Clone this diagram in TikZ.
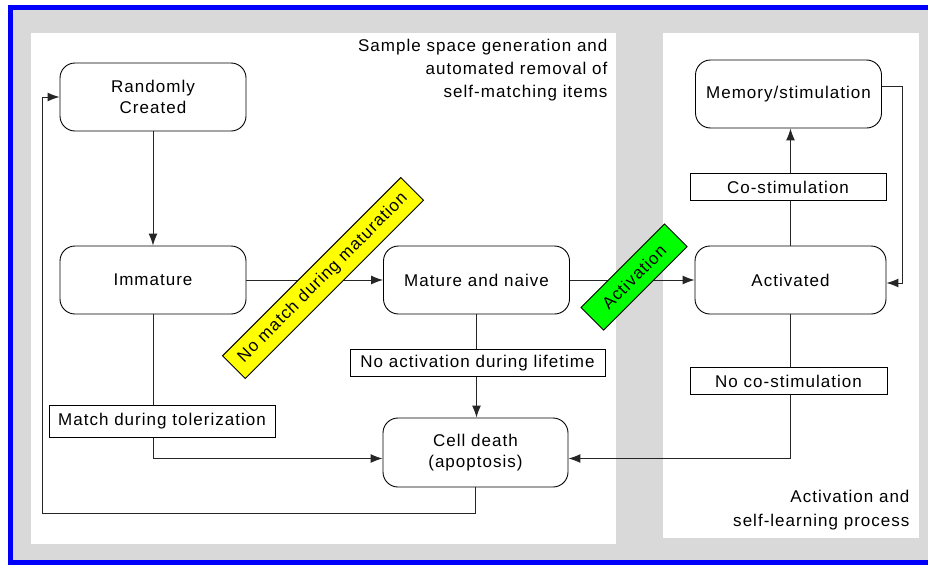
\documentclass[tikz,border=0pt]{standalone}
\usepackage{fontspec}
\setmainfont[LetterSpace=6]{Liberation Sans}
\usetikzlibrary{arrows.meta}
\definecolor{panelgray}{RGB}{217,217,217}
\definecolor{frameblue}{RGB}{0,0,250}
\definecolor{taggreen}{RGB}{0,255,0}
\definecolor{tagyellow}{RGB}{255,255,0}

\tikzset{
  cellstate/.style={draw, fill=white, rounded corners=15pt, minimum width=186pt, minimum height=68pt, align=center, line width=0.9pt},
  condbox/.style={draw, fill=white, minimum height=27pt, line width=0.9pt},
  tagbox/.style={draw, rotate=45, minimum height=32pt, line width=0.9pt},
  flow/.style={draw=black!85, line width=1pt, -{Latex[length=12pt,width=9pt]}},
}

\begin{document}
\begin{tikzpicture}[x=1pt,y=-1pt,font=\fontsize{17}{21}\selectfont]
\useasboundingbox (0,0) rectangle (928,565);
\fill[white] (0,0) rectangle (928,565);
% frame and the two panels
\fill[panelgray] (10.5,7) rectangle (928,562.5);
\draw[frameblue, line width=5pt] (928,7) -- (10.5,7) -- (10.5,562.5) -- (928,562.5);
\fill[white] (31,33) rectangle (616,544);
\fill[white] (663,33) rectangle (919,538);

\node[align=right, anchor=north east, font=\fontsize{17}{23}\selectfont] (gentitle) at (611,36) {Sample space generation and\\automated removal of\\self-matching items};
\node[align=right, anchor=south east, font=\fontsize{17}{24}\selectfont] (acttitle) at (913,534) {Activation and\\self-learning process};

% states
\node[cellstate] (rand) at (153,97) {Randomly\\Created};
\node[cellstate] (imm) at (153,280) {Immature};
\node[cellstate] (mat) at (476.5,280) {Mature and naive};
\node[cellstate, minimum width=191pt] (act) at (790.5,280) {Activated};
\node[cellstate] (mem) at (788.5,94) {Memory/stimulation};
\node[cellstate, minimum width=185pt, minimum height=69pt] (death) at (475.5,452.5) {Cell death\\(apoptosis)};
\coordinate (back) at (42,513);

% connectors
\draw[flow] (rand) -- (imm);
\draw[flow] (imm) -- (mat);
\draw[flow] (mat) -- (act);
\draw[flow] (act.north) -- (act.north |- mem.south);
\draw[flow] ([yshift=8pt]mem.east) -- ++(21,0) |- ([yshift=-3pt]act.east);
\draw[flow] (act.south) |- ([yshift=-6pt]death.east);
\draw[flow] (mat.south) -- (mat.south |- death.north);
\draw[flow] (imm.south) |- ([yshift=-6pt]death.west);
\draw[flow] (death.south) |- (back) |- (rand.west);

% conditions
\node[condbox, minimum width=196pt] (costim) at (788,187) {Co-stimulation};
\node[condbox, minimum width=197pt] (nocostim) at (788.5,381) {No co-stimulation};
\node[condbox, minimum width=255pt] (noact) at (477.5,363) {No activation during lifetime};
\node[condbox, minimum width=226pt, minimum height=32pt] (tolmatch) at (162,421) {Match during tolerization};

\node[tagbox, fill=tagyellow, minimum width=252pt] (nomatch) at (323,278) {No match during maturation};
\node[tagbox, fill=taggreen, minimum width=118pt] (activation) at (634,277) {Activation};
\end{tikzpicture}
\end{document}
